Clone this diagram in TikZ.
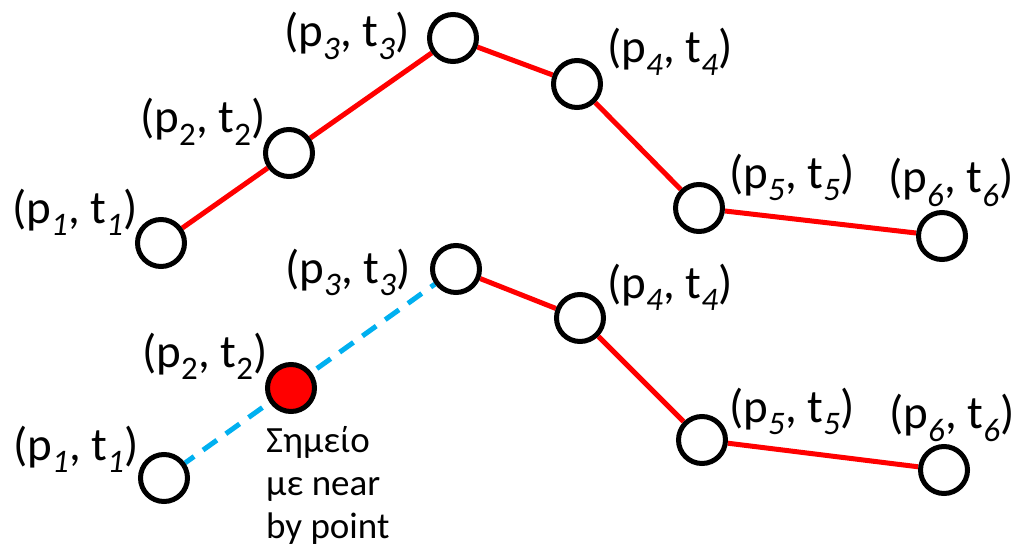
\documentclass[tikz,border=0pt]{standalone}
\usepackage{fontspec}
\setmainfont{Carlito}
\usetikzlibrary{backgrounds}
\definecolor{dashblue}{RGB}{0,176,240}
\begin{document}
\begin{tikzpicture}[x=1pt,y=-1pt,
  pnt/.style={circle,draw=black,line width=5pt,fill=white,minimum size=47pt,inner sep=0pt},
  lbl/.style={anchor=base,inner sep=0pt,font=\fontsize{47}{55}\selectfont},
  seg/.style={red,line width=5pt},
  near/.style={dashblue,line width=5pt,dash pattern=on 17pt off 11pt,dash phase=6pt}]
\useasboundingbox (0,0) rectangle (1016,548);
% upper track
\foreach \n/\px/\py in {1/161/243,2/289/153,3/453/38,4/577/84,5/699/208,6/942/236}
  \node[pnt] (a\n) at (\px,\py) {};
\foreach \n/\px/\py/\s in {1/75/223/\itshape,2/203/133/\upshape,3/347/47/\itshape,
    4/670/63/\itshape,5/792/188/\itshape,6/951/193/\itshape}
  \node[lbl] (la\n) at (\px,\py) {(p\textsubscript{\s\n}, t\textsubscript{\s\n})};
% lower track
\foreach \n/\px/\py in {1/164/478,3/456/269,4/580/318,5/702/440,6/944/470}
  \node[pnt] (b\n) at (\px,\py) {};
\node[pnt,fill=red] (b2) at (291,388) {};
\foreach \n/\px/\py/\s in {1/76/460/\itshape,2/205/367/\upshape,3/348/283/\itshape,
    4/670/298/\itshape,5/792/422/\itshape,6/952/428/\itshape}
  \node[lbl] (lb\n) at (\px,\py) {(p\textsubscript{\s\n}, t\textsubscript{\s\n})};
\node[anchor=base west,inner sep=0pt,align=left,font=\fontsize{37}{43}\selectfont]
  (note) at (266,538) {Σημείο\\με near\\by point};
\begin{scope}[on background layer]
  \draw[seg] (a1)--(a2)--(a3)--(a4)--(a5)--(a6);
  \draw[seg] (b3)--(b4)--(b5)--(b6);
  \draw[near] (b1)--(b3);
\end{scope}
\end{tikzpicture}
\end{document}
